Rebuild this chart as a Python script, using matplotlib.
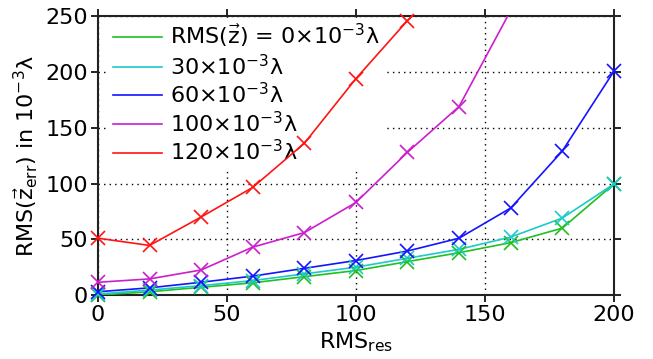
import matplotlib
matplotlib.use("Agg")
import matplotlib.pyplot as plt
import numpy as np

# Residual RMS values (x axis)
rms_res = [0, 20, 40, 60, 80, 100, 120, 140, 160, 180, 200]

# RMS of the error for each surface roughness level (in 1e-3 lambda)
err_0 = [0, 3, 7, 11, 16.5, 22, 30, 38, 47, 60, 99.5]
err_30 = [1, 4.5, 8.5, 13, 19, 25, 33, 41, 52, 69, 99.5]
err_60 = [3, 6.5, 11.5, 17, 24, 31, 39.5, 51, 78, 129, 200.5]
err_100 = [11.5, 14.5, 22.5, 43, 56, 83, 128, 169, 255]
err_120 = [51, 44.5, 70, 96.5, 136, 194, 246, 290]

series = [
    (err_0, "#1fc01f", r"RMS($\vec{\mathrm{z}}$) = 0×10$^{-3}$λ"),
    (err_30, "#1ccaca", r"30×10$^{-3}$λ"),
    (err_60, "#1414ff", r"60×10$^{-3}$λ"),
    (err_100, "#cc1fcc", r"100×10$^{-3}$λ"),
    (err_120, "#ff1414", r"120×10$^{-3}$λ"),
]

plt.rcParams["font.family"] = ["DejaVu Sans"]
plt.rcParams["mathtext.fontset"] = "dejavusans"

fig = plt.figure(figsize=(6.53, 3.59), dpi=100)
ax = fig.add_axes([0.150, 0.178, 0.790, 0.777])

ymax = 250
for vals, color, label in series:
    x = np.array(rms_res[:len(vals)])
    y = np.array(vals)
    ax.plot(x, y, color=color, lw=1.2, label=label, zorder=3)
    inside = y <= ymax
    ax.plot(x[inside], y[inside], ls="none", marker="x", ms=10, mew=1.2,
            color=color, clip_on=False, zorder=4)

ax.set_xlim(0, 200)
ax.set_ylim(0, 250)
ax.set_xticks([0, 50, 100, 150, 200])
ax.set_yticks([0, 50, 100, 150, 200, 250])
ax.grid(True, color="black", ls=(0, (1, 3)), lw=1.0, zorder=1)
ax.set_axisbelow(True)

for s in ax.spines.values():
    s.set_linewidth(1.5)
    s.set_color("#222222")

ax.tick_params(axis="both", which="both", direction="out", length=5, width=1.2,
               labelsize=16, top=True, right=True, pad=2)

ax.set_xlabel(r"RMS$_{\mathrm{res}}$", fontsize=16, labelpad=4)
ax.set_ylabel(r"RMS($\vec{\mathrm{z}}_{\mathrm{err}}$) in 10$^{-3}$λ", fontsize=16, labelpad=4)

leg = ax.legend(loc="upper left", bbox_to_anchor=(0.02, 0.995), fontsize=16,
                frameon=True, fancybox=False, edgecolor="none",
                facecolor="white", framealpha=1.0,
                handlelength=2.2, handletextpad=0.4, labelspacing=0.15,
                borderpad=0.2, borderaxespad=0.0)
# legend box hides the grid but stays underneath the curves
leg.set_zorder(2)

fig.savefig("out.png", dpi=100)
